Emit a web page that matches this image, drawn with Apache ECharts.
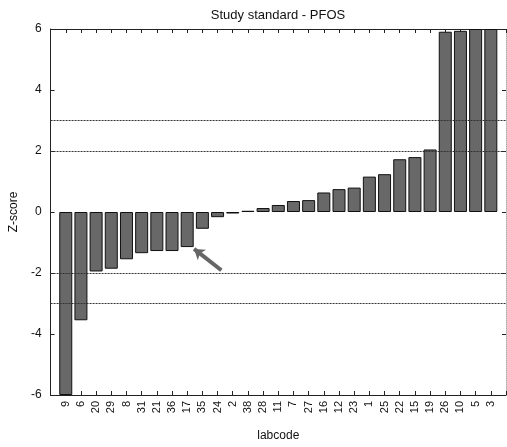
<!DOCTYPE html>
<html>
<head>
<meta charset="utf-8">
<script src="https://cdn.jsdelivr.net/npm/echarts@6/dist/echarts.min.js"></script>
<style>html,body{margin:0;padding:0;background:#fff}#c{width:507px;height:447px}</style>
</head>
<body>
<div id="c"></div>
<script>
const labcodes = ['9','6','20','29','8','31','21','36','17','35','24','2','38','28','11','7','27','16','12','23','1','25','22','15','19','26','10','5','3'];
const zscores = [-6, -3.55, -1.95, -1.86, -1.55, -1.35, -1.28, -1.28, -1.15, -0.55, -0.17, -0.05, 0.04, 0.13, 0.23, 0.36, 0.39, 0.64, 0.75, 0.8, 1.16, 1.24, 1.73, 1.8, 2.05, 5.91, 5.94, 6, 6];
const yTicks = [-6, -4, -2, 0, 2, 4, 6];
const limitLines = [-3, -2, 2, 3];
const arrowFrom = [11.25, -1.91];
const arrowTo = [9.45, -1.21];

const FONT = 'Liberation Sans';
const chart = echarts.init(document.getElementById('c'), null, {renderer: 'canvas'});
const xLabel = v => (Number.isInteger(v) && v >= 1 && v <= labcodes.length) ? labcodes[v - 1] : '';
const axisLineStyle = {show: true, onZero: false, lineStyle: {color: '#222', width: 1}};
const tickStyle = {show: true, inside: true, length: 4, lineStyle: {color: '#222', width: 1}};
const option = {
  animation: false,
  backgroundColor: '#fff',
  title: {
    text: 'Study standard - PFOS', left: 273, top: 4, textAlign: 'center',
    textStyle: {fontFamily: FONT, fontSize: 13, fontWeight: 'normal', color: '#111'}
  },
  grid: {left: 46, right: 1, top: 29, bottom: 50},
  xAxis: [{
    type: 'value', min: 0, max: labcodes.length + 1, interval: 1, position: 'bottom',
    name: 'labcode', nameLocation: 'middle', nameGap: 35,
    nameTextStyle: {fontFamily: FONT, fontSize: 12, color: '#111'},
    axisLine: axisLineStyle,
    axisTick: tickStyle,
    axisLabel: {rotate: 90, margin: 6, formatter: xLabel, fontFamily: FONT, fontSize: 11, color: '#111'},
    splitLine: {show: false}
  }, {
    type: 'value', min: 0, max: labcodes.length + 1, interval: 1, position: 'top',
    axisLine: axisLineStyle,
    axisTick: tickStyle,
    axisLabel: {show: false}, splitLine: {show: false}
  }],
  yAxis: [{
    type: 'value', min: yTicks[0], max: yTicks[yTicks.length - 1], interval: 2, position: 'left',
    name: 'Z-score', nameLocation: 'middle', nameGap: 28,
    nameTextStyle: {fontFamily: FONT, fontSize: 12, color: '#111'},
    axisLine: axisLineStyle,
    axisTick: tickStyle,
    axisLabel: {margin: 9, fontFamily: FONT, fontSize: 12, color: '#111'},
    splitLine: {show: false}
  }, {
    type: 'value', min: yTicks[0], max: yTicks[yTicks.length - 1], interval: 2, position: 'right',
    axisLine: {show: true, onZero: false, lineStyle: {color: '#aaa', width: 1, type: 'dotted'}},
    axisTick: tickStyle,
    axisLabel: {show: false}, splitLine: {show: false}
  }],
  series: [{
    type: 'line', data: [], z: 1, silent: true,
    markLine: {
      symbol: ['none', 'none'], silent: true, label: {show: false},
      lineStyle: {color: '#333', width: 1, type: [2, 1]},
      data: limitLines.map(v => ({yAxis: v}))
    }
  }, {
    type: 'bar', z: 2, barWidth: 13,
    data: zscores.map((v, i) => [i + 1, v]),
    itemStyle: {color: '#686868', borderColor: '#111', borderWidth: 1},
    clip: true
  }, {
    type: 'line', data: [], z: 5, silent: true,
    markLine: {
      silent: true, label: {show: false}, symbol: ['none', 'arrow'], symbolSize: 10,
      lineStyle: {color: '#666', width: 4, type: 'solid'},
      itemStyle: {color: '#666', borderColor: '#222', borderWidth: 1},
      data: [[{coord: arrowFrom}, {coord: arrowTo}]]
    }
  }]
};
chart.setOption(option);
</script>
</body>
</html>
